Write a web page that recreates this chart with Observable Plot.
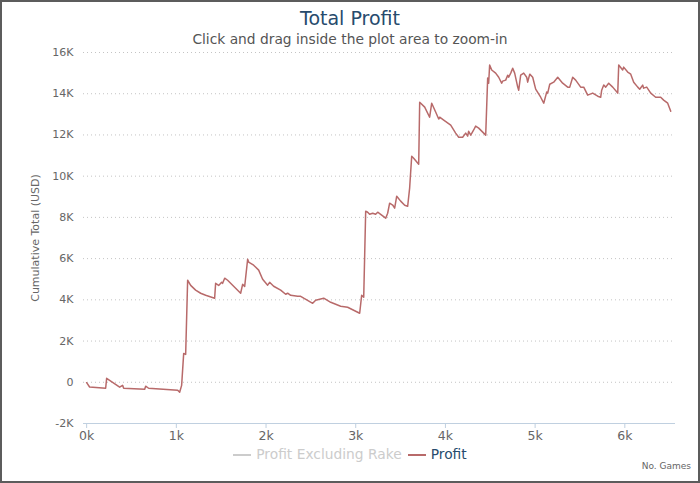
<!DOCTYPE html>
<html>
<head>
<meta charset="utf-8">
<script src="https://cdn.jsdelivr.net/npm/d3@7"></script>
<script src="https://cdn.jsdelivr.net/npm/@observablehq/plot@0.6"></script>
<style>
  html, body { margin: 0; padding: 0; background: #fff; }
  #frame { position: relative; width: 700px; height: 483px; overflow: hidden; background: #fff;
           font-family: "DejaVu Sans", sans-serif; }
  #border { position: absolute; left: 0; top: 0; width: 700px; height: 483px; box-sizing: border-box;
            border: 2px solid #5c5c5c; pointer-events: none; }
  #title { position: absolute; left: 0; width: 700px; top: 7px; text-align: center;
           font-size: 19px; color: #274b6d; }
  #subtitle { position: absolute; left: 0; width: 700px; top: 31px; text-align: center;
              font-size: 13.8px; color: #555; }
  #chart { position: absolute; left: 0; top: 46px; }
  #legend { position: absolute; left: 0; width: 700px; top: 446px; text-align: center;
            font-size: 13.8px; white-space: nowrap; }
  #legend .item { display: inline-block; margin: 0 3px; }
  #legend svg { vertical-align: middle; margin-right: 5px; }
  #xtitle { position: absolute; right: 9px; top: 461px; font-size: 9px; color: #666; }
</style>
</head>
<body>
<div id="frame">
  <div id="title">Total Profit</div>
  <div id="subtitle">Click and drag inside the plot area to zoom-in</div>
  <div id="chart"></div>
  <div id="legend"></div>
  <div id="xtitle">No. Games</div>
  <div id="border"></div>
</div>
<script>
// Cumulative profit after each recorded number of games
const games = [
  0, 33, 212, 223, 368, 401, 413, 647, 658, 691, 1015, 1037, 1059, 1082, 1104, 1126,
  1160, 1215, 1271, 1327, 1427, 1438, 1472, 1505, 1516, 1539, 1572, 1717, 1739, 1762,
  1795, 1806, 1862, 1918, 1962, 2018, 2040, 2085, 2163, 2219, 2241, 2275, 2353, 2386,
  2420, 2520, 2553, 2643, 2721, 2832, 2910, 3044, 3066, 3089, 3111, 3133, 3155, 3189,
  3222, 3245, 3278, 3334, 3356, 3378, 3412, 3434, 3457, 3501, 3546, 3579, 3601, 3624,
  3646, 3702, 3713, 3769, 3824, 3847, 3891, 3925, 3936, 3981, 4059, 4114, 4148, 4192,
  4226, 4248, 4259, 4282, 4315, 4337, 4371, 4449, 4471, 4482, 4493, 4516, 4560, 4594,
  4627, 4638, 4672, 4694, 4705, 4728, 4750, 4772, 4806, 4817, 4839, 4873, 4906, 4917,
  4940, 4973, 5006, 5062, 5096, 5129, 5140, 5163, 5207, 5252, 5307, 5363, 5386, 5419,
  5452, 5508, 5542, 5586, 5642, 5698, 5731, 5742, 5765, 5787, 5820, 5865, 5921, 5932,
  5976, 5987, 6032, 6066, 6099, 6144, 6166, 6199, 6210, 6244, 6289, 6344, 6400, 6433,
  6478, 6512
];
const profit = [
  -20, -230, -290, 190, -240, -150, -290, -340, -190, -290, -390, -480, -150, 1400, 1350, 4950,
  4700, 4470, 4320, 4220, 4080, 4800, 4700, 4850, 4800, 5050, 4950, 4320, 4750, 4650,
  5970, 5830, 5680, 5440, 5000, 4710, 4850, 4660, 4470, 4270, 4320, 4220, 4170, 4170,
  4080, 3830, 3980, 4080, 3880, 3690, 3640, 3350, 4220, 4130, 8300, 8250, 8150, 8200,
  8150, 8250, 8150, 7960, 8200, 8690, 8600, 8450, 9030, 8790, 8590, 8540, 9420, 10970,
  10870, 10580, 13590, 13350, 12860, 13540, 13110, 12770, 12860, 12720, 12480, 12090, 11890, 11890,
  12090, 11940, 12180, 11990, 12240, 12430, 12330, 11990, 14760, 14510, 15390, 15150, 15000, 14800,
  14510, 14610, 14660, 14900, 14800, 15000, 15240, 15000, 14320, 14170, 14900, 15000, 14800, 14560,
  14950, 14800, 14220, 13830, 13540, 14080, 14030, 14460, 14560, 14800, 14510, 14320, 14320, 14800,
  14660, 14320, 14320, 13930, 14030, 13880, 13830, 14170, 14420, 14320, 14510, 14320, 14030, 15390,
  15150, 15290, 15050, 14950, 14560, 14320, 14220, 14420, 14270, 14320, 14030, 13830, 13830, 13690,
  13540, 13150
];

// Axis ticks and series names
const yTicks = [-2000, 0, 2000, 4000, 6000, 8000, 10000, 12000, 14000, 16000];
const xTicks = [0, 1000, 2000, 3000, 4000, 5000, 6000];
const seriesNames = ["Profit Excluding Rake", "Profit"];
const seriesColors = ["#cccccc", "#b86a6a"];

const rows = games.map((g, i) => ({games: g, profit: profit[i]}));
const fmtY = v => v === 0 ? "0" : `${v / 1000}K`;
const fmtX = v => `${v / 1000}k`;

const chart = Plot.plot({
  width: 700,
  height: 400,
  marginTop: 6,
  marginBottom: 23,
  marginLeft: 83,
  marginRight: 25,
  style: {fontFamily: "DejaVu Sans, sans-serif", fontSize: "12.5px", color: "#666", background: "transparent"},
  x: {domain: [-35, 6565]},
  y: {domain: [-2000, 16000]},
  marks: [
    Plot.ruleY(yTicks.filter(v => v > -2000), {stroke: "#c4c4c4", strokeDasharray: "1,3", strokeWidth: 1}),
    Plot.ruleY([-2000], {stroke: "#c0d0e0", strokeWidth: 1}),
    Plot.axisX({ticks: xTicks, tickFormat: fmtX, tickSize: 5, tickPadding: 3, stroke: "#c0d0e0",
                fill: "#666", label: null}),
    Plot.axisY({ticks: yTicks, tickFormat: fmtY, tickSize: 0, tickPadding: 10, fill: "#666",
                label: "Cumulative Total (USD)", labelAnchor: "center", labelArrow: "none",
                labelOffset: 52, fontSize: 11}),
    Plot.line(rows, {x: "games", y: "profit", stroke: seriesColors[1], strokeWidth: 1.5,
                     strokeLinejoin: "round"})
  ]
});
document.getElementById("chart").appendChild(chart);

// Legend: the first series is shown greyed out (hidden), the second active
const legend = document.getElementById("legend");
seriesNames.forEach((name, i) => {
  const item = document.createElement("span");
  item.className = "item";
  item.innerHTML = `<svg width="18" height="10"><line x1="0" x2="18" y1="5" y2="5" stroke="${seriesColors[i]}" stroke-width="2"/></svg>`;
  const label = document.createElement("span");
  label.textContent = name;
  label.style.color = i === 0 ? "#cccccc" : "#274b6d";
  item.appendChild(label);
  legend.appendChild(item);
});
</script>
</body>
</html>
